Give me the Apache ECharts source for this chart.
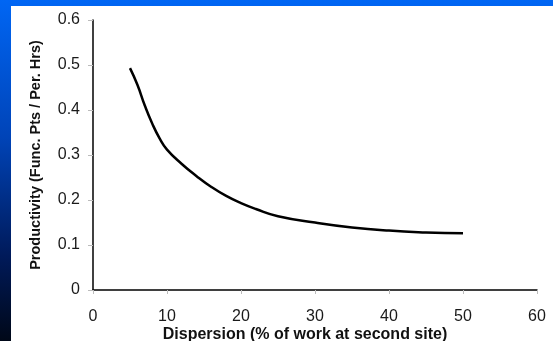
<!DOCTYPE html>
<html>
<head>
<meta charset="utf-8">
<script src="https://cdn.jsdelivr.net/npm/echarts@6/dist/echarts.min.js"></script>
<style>
  html, body { margin: 0; padding: 0; }
  #wrap {
    position: relative; width: 553px; height: 341px; overflow: hidden;
    background: linear-gradient(to bottom, #0066f4 0%, #0044b8 40%, #001a5a 75%, #000818 100%);
  }
  #paper { position: absolute; left: 11px; top: 6px; right: 0; bottom: 0; background: #fff; }
  #chart { position: absolute; left: 0; top: 0; width: 553px; height: 341px; }
</style>
</head>
<body>
<div id="wrap">
  <div id="paper"></div>
  <div id="chart"></div>
</div>
<script>
// dispersion (% of work at second site)
const dispersion = [5, 6, 7, 8, 9, 10, 12, 14, 16, 18, 20, 22, 25, 30, 35, 40, 45, 50];
// productivity (function points / person hours)
const productivity = [0.493, 0.456, 0.410, 0.370, 0.337, 0.312, 0.280, 0.253, 0.229, 0.209, 0.193, 0.180, 0.164, 0.150, 0.139, 0.132, 0.128, 0.126];

const xTitle = 'Dispersion (% of work at second site)';
const yTitle = 'Productivity (Func. Pts / Per. Hrs)';

let points = [];
for (let i = 0; i < dispersion.length; i++) {
  points.push([dispersion[i], productivity[i]]);
}

let chart = echarts.init(document.getElementById('chart'));

let labelFont = { fontFamily: 'Liberation Sans, Arial, sans-serif', fontSize: 16, color: '#1a1a1a' };

chart.setOption({
  backgroundColor: 'transparent',
  animation: false,
  grid: { left: 93, right: 16, top: 20, bottom: 51, containLabel: false, outerBoundsMode: 'none' },
  xAxis: {
    type: 'value',
    min: 0, max: 60, interval: 10,
    name: xTitle,
    nameLocation: 'middle',
    nameGap: 37,
    nameMoveOverlap: false,
    nameTextStyle: {
      fontFamily: 'Liberation Sans, Arial, sans-serif',
      fontSize: 16, fontWeight: 'bold', color: '#111',
      padding: [0, 20, 0, 0]
    },
    axisLine: { onZero: false, lineStyle: { color: '#000', width: 1.5 } },
    axisTick: { show: true, length: 4, lineStyle: { color: '#bbb' } },
    axisLabel: Object.assign({ margin: 19 }, labelFont),
    splitLine: { show: false }
  },
  yAxis: {
    type: 'value',
    min: 0, max: 0.6, interval: 0.1,
    name: yTitle,
    nameLocation: 'middle',
    nameGap: 50,
    nameMoveOverlap: false,
    nameTextStyle: {
      fontFamily: 'Liberation Sans, Arial, sans-serif',
      fontSize: 14.5, fontWeight: 'bold', color: '#111'
    },
    axisLine: { show: true, lineStyle: { color: '#000', width: 1.5 } },
    axisTick: { show: true, length: 5, lineStyle: { color: '#bbb' } },
    axisLabel: Object.assign({ margin: 13 }, labelFont),
    splitLine: { show: false }
  },
  series: [{
    type: 'line',
    data: points,
    smooth: 0.5,
    symbol: 'none',
    lineStyle: { color: '#000', width: 2.5 }
  }]
});
</script>
</body>
</html>
